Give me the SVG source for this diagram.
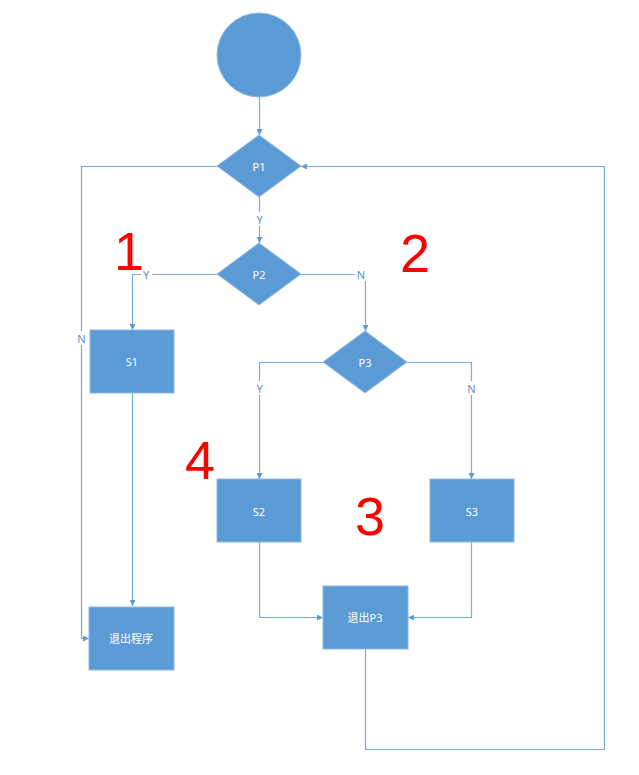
<svg xmlns="http://www.w3.org/2000/svg" width="639" height="775" viewBox="0 0 639 775">
<style>
.n{fill:#5B9BD5;stroke:#8FB9E3;stroke-width:1}
.t{font-family:"Noto Sans","Noto Sans CJK SC",sans-serif;font-size:11px;fill:#FFFFFF;text-anchor:middle;dominant-baseline:central}
.c{fill:none;stroke:#7AA9DB;stroke-width:1.2}
.l{font-family:"Noto Sans",sans-serif;font-size:11px;fill:#5B8CC8;text-anchor:middle;dominant-baseline:central}
.lb{fill:#FFFFFF}
.r{font-family:"Liberation Sans",sans-serif;font-size:54px;fill:#FF0000;text-anchor:middle}
</style>
<defs>
<marker id="a" viewBox="0 0 10 10" refX="10" refY="5" markerWidth="6" markerHeight="6" orient="auto" markerUnits="userSpaceOnUse">
<path d="M0,0 L10,5 L0,10 z" fill="#5B9BD5"/>
</marker>
</defs>
<rect width="639" height="775" fill="#FFFFFF"/>
<g id="connectors">
<path class="c" d="M259.5,97 V135" marker-end="url(#a)"/>
<path class="c" d="M259.5,197 V243" marker-end="url(#a)"/>
<path class="c" d="M217,166.5 H81.5 V638.5 H89" marker-end="url(#a)"/>
<path class="c" d="M217,274.5 H132.5 V330" marker-end="url(#a)"/>
<path class="c" d="M132.5,393 V606" marker-end="url(#a)"/>
<path class="c" d="M301,274.5 H365.5 V331" marker-end="url(#a)"/>
<path class="c" d="M323,362.5 H259.5 V479" marker-end="url(#a)"/>
<path class="c" d="M407,362.5 H471.5 V479" marker-end="url(#a)"/>
<path class="c" d="M259.5,542 V617.5 H323" marker-end="url(#a)"/>
<path class="c" d="M471.5,542 V617.5 H408" marker-end="url(#a)"/>
<path class="c" d="M365.5,649 V749.5 H604.5 V166.5 H301" marker-end="url(#a)"/>
<rect class="lb" x="254" y="212" width="11" height="14"/>
<text class="l" x="259.5" y="219">Y</text>
<rect class="lb" x="141" y="267" width="11" height="14"/>
<text class="l" x="146" y="274">Y</text>
<rect class="lb" x="355" y="267" width="12" height="14"/>
<text class="l" x="361" y="274">N</text>
<rect class="lb" x="75" y="331" width="12" height="14"/>
<text class="l" x="81.5" y="338">N</text>
<rect class="lb" x="254" y="381" width="11" height="14"/>
<text class="l" x="259.5" y="388">Y</text>
<rect class="lb" x="465" y="381" width="12" height="14"/>
<text class="l" x="471.5" y="388">N</text>
</g>
<g id="start"><circle class="n" cx="259" cy="55" r="42"/></g>
<g id="P1"><polygon class="n" points="259,135 301,166 259,197 217,166"/><text class="t" x="259" y="166">P1</text></g>
<g id="P2"><polygon class="n" points="259,243 301,274 259,305 217,274"/><text class="t" x="259" y="274">P2</text></g>
<g id="P3"><polygon class="n" points="365,331 407,362 365,393 323,362"/><text class="t" x="365" y="362">P3</text></g>
<g id="S1"><rect class="n" x="90" y="330" width="84" height="63"/><text class="t" x="132" y="361">S1</text></g>
<g id="S2"><rect class="n" x="217" y="479" width="84" height="63"/><text class="t" x="259" y="511">S2</text></g>
<g id="S3"><rect class="n" x="430" y="479" width="84" height="63"/><text class="t" x="472" y="511">S3</text></g>
<g id="exit"><rect class="n" x="89" y="607" width="85" height="63"/><text class="t" x="131" y="638">退出程序</text></g>
<g id="exitP3"><rect class="n" x="323" y="586" width="85" height="63"/><text class="t" x="365" y="617">退出P3</text></g>
<g id="marks">
<text class="r" x="129" y="270">1</text>
<text class="r" x="415" y="272">2</text>
<text class="r" x="370" y="535">3</text>
<text class="r" x="200" y="479">4</text>
</g>
</svg>
